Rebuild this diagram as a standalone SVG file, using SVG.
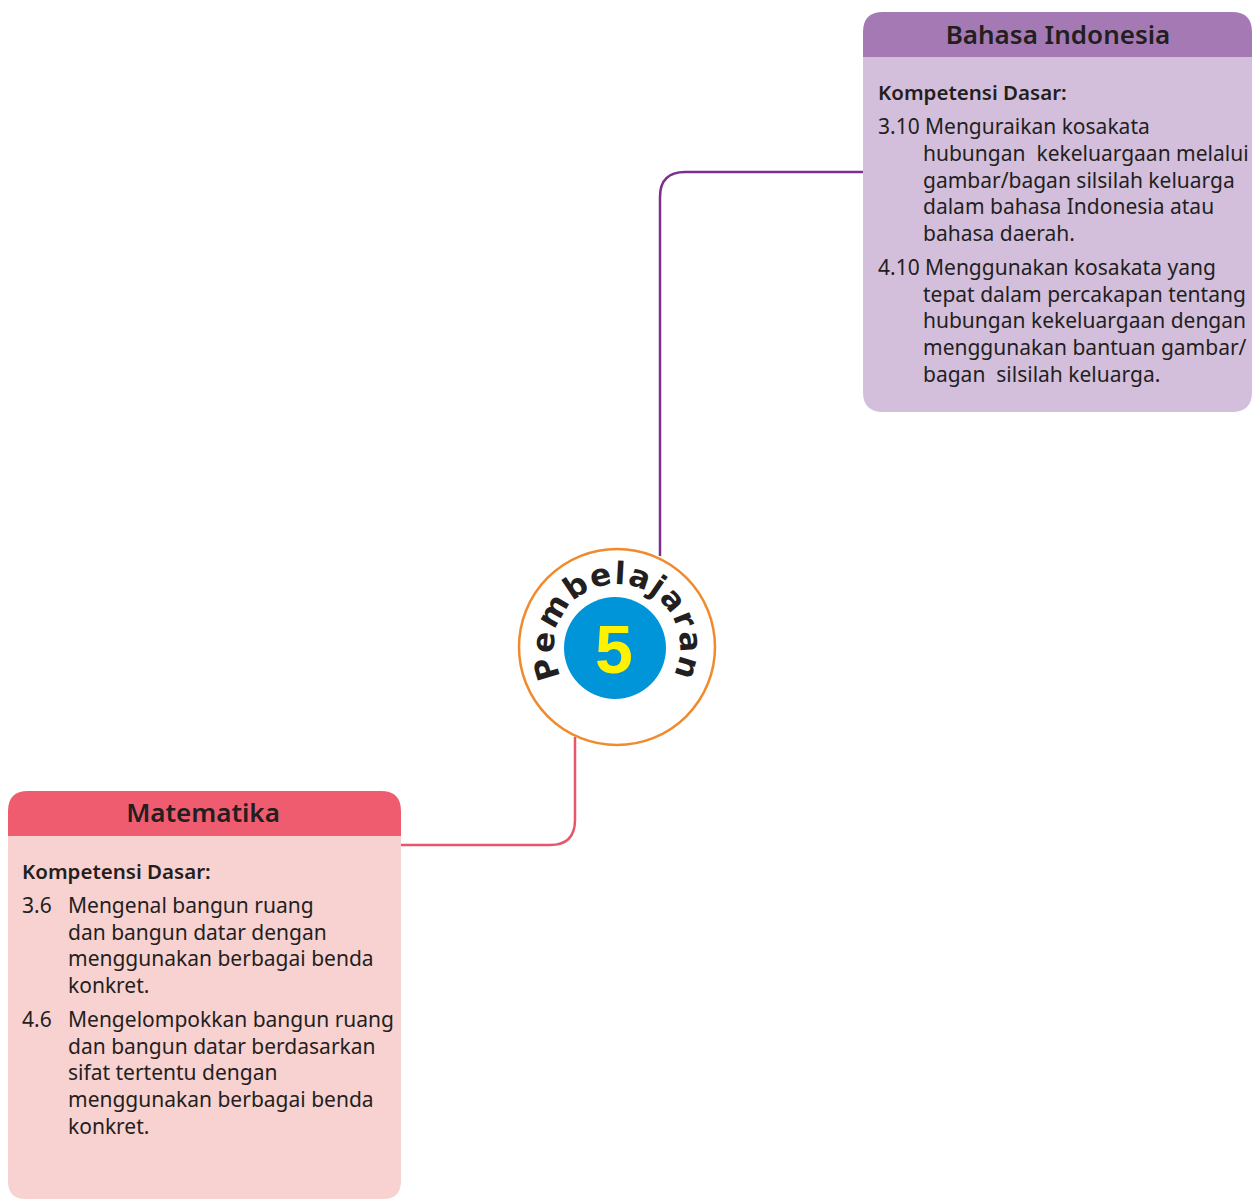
<svg xmlns="http://www.w3.org/2000/svg" width="1252" height="1199" viewBox="0 0 1252 1199">
<style>
.t{font-family:"Noto Sans","Open Sans",sans-serif;font-size:21px;fill:#231f20;white-space:pre}
.kd{font-family:"Noto Sans","Open Sans",sans-serif;font-size:20.5px;font-weight:600;fill:#231f20}
.h{font-family:"Noto Sans","Open Sans",sans-serif;font-size:26px;font-weight:600;fill:#231f20}
.con{fill:none;stroke-width:2.5}
</style>
<defs>
<path id="arc" d="M617,710 A63,63 0 1 1 617,584 A63,63 0 1 1 617,710"/>
</defs>
<g id="connectors">
<path class="con" stroke="#7d2f8f" d="M863,172 H685 Q660,172 660,197 V556"/>
<path class="con" stroke="#e8566c" d="M401,845 H550 Q575,845 575,820 V737"/>
</g>
<g id="bahasa">
<path d="M863,32 Q863,12 883,12 H1232 Q1252,12 1252,32 V57 H863 Z" fill="#a57ab4"/>
<path d="M863,57 H1252 V392 Q1252,412 1232,412 H883 Q863,412 863,392 Z" fill="#d3bedc"/>
<text class="h" x="1058" y="44" text-anchor="middle">Bahasa Indonesia</text>
<text class="kd" x="878" y="100">Kompetensi Dasar:</text>
<text class="t" x="878" y="134">3.10</text>
<text class="t" x="925" y="134">Menguraikan kosakata</text>
<text class="t" x="923" y="161">hubungan  kekeluargaan melalui</text>
<text class="t" x="923" y="188">gambar/bagan silsilah keluarga</text>
<text class="t" x="923" y="214">dalam bahasa Indonesia atau</text>
<text class="t" x="923" y="241">bahasa daerah.</text>
<text class="t" x="878" y="275">4.10</text>
<text class="t" x="925" y="275">Menggunakan kosakata yang</text>
<text class="t" x="923" y="302">tepat dalam percakapan tentang</text>
<text class="t" x="923" y="328">hubungan kekeluargaan dengan</text>
<text class="t" x="923" y="355">menggunakan bantuan gambar/</text>
<text class="t" x="923" y="382">bagan  silsilah keluarga.</text>
</g>
<g id="matematika">
<path d="M8,811 Q8,791 28,791 H381 Q401,791 401,811 V836 H8 Z" fill="#f05c6f"/>
<path d="M8,836 H401 V1181 Q401,1199 383,1199 H26 Q8,1199 8,1181 Z" fill="#f8d1d1"/>
<text class="h" x="203" y="822" text-anchor="middle">Matematika</text>
<text class="kd" x="22" y="879">Kompetensi Dasar:</text>
<text class="t" x="22" y="913">3.6</text>
<text class="t" x="68" y="913">Mengenal bangun ruang</text>
<text class="t" x="68" y="940">dan bangun datar dengan</text>
<text class="t" x="68" y="966">menggunakan berbagai benda</text>
<text class="t" x="68" y="993">konkret.</text>
<text class="t" x="22" y="1027">4.6</text>
<text class="t" x="68" y="1027">Mengelompokkan bangun ruang</text>
<text class="t" x="68" y="1054">dan bangun datar berdasarkan</text>
<text class="t" x="68" y="1080">sifat tertentu dengan</text>
<text class="t" x="68" y="1107">menggunakan berbagai benda</text>
<text class="t" x="68" y="1134">konkret.</text>
</g>
<g id="pembelajaran">
<circle cx="617" cy="647" r="98" fill="#ffffff" stroke="#f08a2c" stroke-width="2.5"/>
<circle cx="615" cy="648" r="51" fill="#0095d9"/>
<text x="614" y="673" text-anchor="middle" font-family="'Liberation Sans',sans-serif" font-weight="bold" font-size="68" fill="#fff200">5</text>
<text font-family="'DejaVu Sans',sans-serif" font-weight="bold" font-size="31" fill="#231f20" letter-spacing="1.5"><textPath href="#arc" startOffset="50%" text-anchor="middle">Pembelajaran</textPath></text>
</g>
</svg>
